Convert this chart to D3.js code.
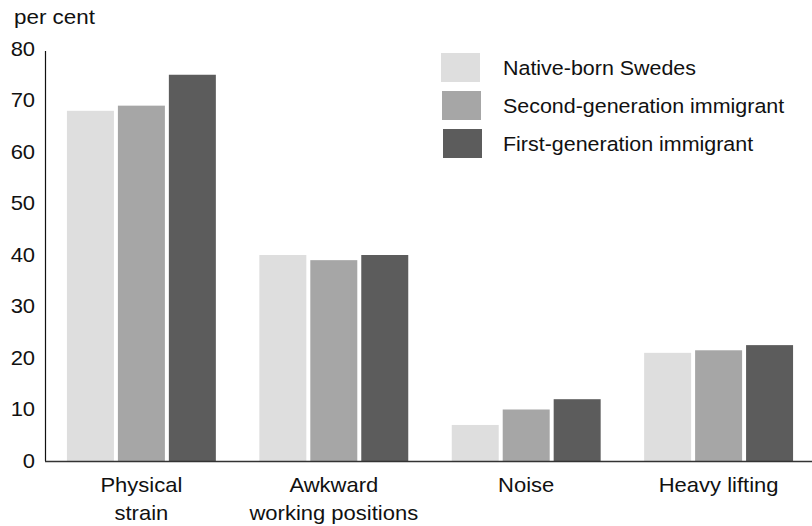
<!DOCTYPE html>
<html>
<head>
<meta charset="utf-8">
<script src="https://cdn.jsdelivr.net/npm/d3@7"></script>
<style>
  html, body { margin: 0; padding: 0; background: #fff; }
  svg text { font-family: "Liberation Sans", Arial, sans-serif; fill: #111; }
</style>
</head>
<body>
<svg id="chart" width="812" height="526"></svg>
<script>
const categories = [["Physical", "strain"], ["Awkward", "working positions"], ["Noise"], ["Heavy lifting"]];
const seriesNames = ["Native-born Swedes", "Second-generation immigrant", "First-generation immigrant"];
const nativeBorn = [68, 40, 7, 21];
const secondGen = [69, 39, 10, 21.5];
const firstGen = [75, 40, 12, 22.5];
const yTicks = [0, 10, 20, 30, 40, 50, 60, 70, 80];
const colors = ["#dedede", "#a6a6a6", "#5c5c5c"];

const series = [nativeBorn, secondGen, firstGen];
const svg = d3.select("#chart");
const FS = "20px";
const SX = 1.1;

const x0 = d3.scaleBand().domain(d3.range(categories.length)).range([45, 815]).paddingInner(0.226).paddingOuter(0.114);
const x1 = d3.scaleBand().domain(d3.range(series.length)).range([0, x0.bandwidth()]).paddingInner(0.078).paddingOuter(0);
const y = d3.scaleLinear().domain([0, 80]).range([461, 49]);

// bars
const groups = svg.append("g").selectAll("g").data(categories).join("g")
  .attr("transform", (d, i) => `translate(${x0(i)},0)`);
groups.selectAll("rect").data((d, i) => series.map((s, j) => ({ j, v: s[i] })))
  .join("rect")
  .attr("x", d => x1(d.j))
  .attr("width", x1.bandwidth())
  .attr("y", d => y(d.v))
  .attr("height", d => y(0) - y(d.v))
  .attr("fill", d => colors[d.j]);

// y axis
const yAxis = d3.axisLeft(y).tickValues(yTicks).tickSize(0).tickPadding(9);
const yg = svg.append("g").attr("transform", "translate(45,0)").call(yAxis);
yg.select(".domain").remove();
yg.attr("font-family", null).attr("font-size", null);
yg.selectAll("text").style("font-size", FS).attr("fill", "#111")
  .attr("transform", `scale(${SX},1)`);
svg.append("line").attr("x1", 45.5).attr("x2", 45.5).attr("y1", y(80) + 2).attr("y2", y(0))
  .attr("stroke", "#111").attr("stroke-width", 1.2);

// x axis line
svg.append("line").attr("x1", 45).attr("x2", 812).attr("y1", y(0) + 0.5).attr("y2", y(0) + 0.5)
  .attr("stroke", "#333").attr("stroke-width", 1.3);

function label(x, yy, t, anchor, fs, sx) {
  svg.append("text").attr("transform", `translate(${x},${yy}) scale(${sx},1)`)
    .attr("text-anchor", anchor).style("font-size", fs).text(t);
}

// category labels
categories.forEach((lines, i) => {
  const cx = x0(i) + x0.bandwidth() / 2;
  lines.forEach((t, k) => label(cx, 492 + k * 28, t, "middle", FS, SX));
});

// y title
label(14, 24, "per cent", "start", "19.5px", 1.15);

// legend
seriesNames.forEach((name, j) => {
  svg.append("rect").attr("x", 441 + j).attr("y", 53 + j * 38).attr("width", 39).attr("height", 29).attr("fill", colors[j]);
  label(503, 75 + j * 38, name, "start", "19.5px", SX);
});
</script>
</body>
</html>
